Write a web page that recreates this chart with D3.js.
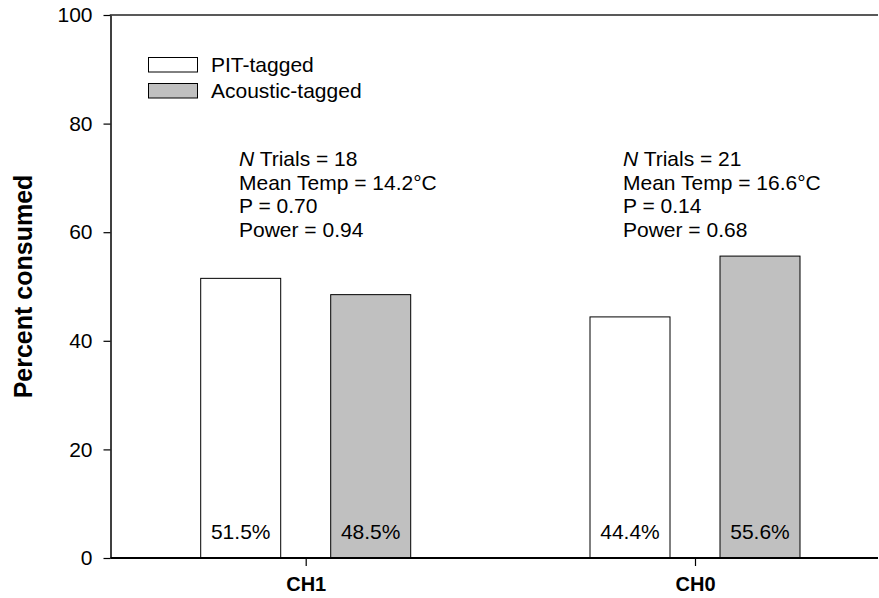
<!DOCTYPE html>
<html>
<head>
<meta charset="utf-8">
<script src="https://cdn.jsdelivr.net/npm/d3@7"></script>
<style>
  html, body { margin: 0; padding: 0; background: #fff; }
  svg { display: block; font-family: Arial, "Liberation Sans", sans-serif; }
</style>
</head>
<body>
<svg id="chart" width="879" height="598"></svg>
<script>
// Predation trials: share of each tag type consumed per channel
const categories = ["CH1", "CH0"];
const seriesNames = ["PIT-tagged", "Acoustic-tagged"];
const pitValues = [51.5, 44.4];
const acousticValues = [48.5, 55.6];
const yTicks = [0, 20, 40, 60, 80, 100];
const trialsN = ["18", "21"];
const meanTemps = ["14.2°C", "16.6°C"];
const pValues = ["0.70", "0.14"];
const powerValues = ["0.94", "0.68"];

const svg = d3.select("#chart");
const plotLeft = 110.5, plotRight = 878, plotTop = 15, plotBottom = 558;
const fills = ["#ffffff", "#c0c0c0"];

const y = d3.scaleLinear().domain([0, 100]).range([plotBottom, plotTop]);
const x = d3.scalePoint().domain(categories).range([305.7, 695]);
const xSub = d3.scaleBand().domain(seriesNames).range([-105, 105])
  .paddingInner(50 / 130).paddingOuter(0);

const rows = categories.map((c, i) => ({
  cat: c,
  vals: [pitValues[i], acousticValues[i]]
}));

// Bars
const groups = svg.append("g").selectAll("g")
  .data(rows).join("g")
  .attr("transform", d => `translate(${x(d.cat)},0)`);

groups.selectAll("rect")
  .data(d => d.vals.map((v, j) => ({ v, s: seriesNames[j], j })))
  .join("rect")
  .attr("x", d => xSub(d.s))
  .attr("width", xSub.bandwidth())
  .attr("y", d => y(d.v))
  .attr("height", d => y(0) - y(d.v))
  .attr("fill", d => fills[d.j])
  .attr("stroke", "#000")
  .attr("stroke-width", 1);

// Percent labels at the foot of each bar
groups.selectAll("text.pct")
  .data(d => d.vals.map((v, j) => ({ v, s: seriesNames[j] })))
  .join("text")
  .attr("class", "pct")
  .attr("x", d => xSub(d.s) + xSub.bandwidth() / 2)
  .attr("y", 539)
  .attr("text-anchor", "middle")
  .attr("font-size", 21)
  .attr("fill", "#000")
  .text(d => d.v.toFixed(1) + "%");

// Y axis
const yAxis = svg.append("g")
  .attr("transform", `translate(${plotLeft},0)`)
  .call(d3.axisLeft(y).tickValues(yTicks).tickSize(7).tickSizeOuter(0).tickPadding(11));
yAxis.select(".domain").attr("stroke", "#000").attr("stroke-width", 1.5);
yAxis.selectAll(".tick line").attr("stroke", "#000").attr("stroke-width", 1.2);
yAxis.selectAll(".tick text").attr("font-size", 21).attr("fill", "#000")
  .attr("font-family", "Arial, 'Liberation Sans', sans-serif");

// X axis
const xAxis = svg.append("g")
  .attr("transform", `translate(0,${plotBottom})`)
  .call(d3.axisBottom(x).tickSize(8).tickSizeOuter(0).tickPadding(11));
xAxis.select(".domain").remove();
xAxis.selectAll(".tick line").attr("stroke", "#000").attr("stroke-width", 1.2);
xAxis.selectAll(".tick text").attr("font-size", 20).attr("font-weight", "bold")
  .attr("fill", "#000").attr("font-family", "Arial, 'Liberation Sans', sans-serif");

// Frame lines along top and bottom
svg.append("line").attr("x1", plotLeft).attr("x2", plotRight).attr("y1", plotBottom).attr("y2", plotBottom)
  .attr("stroke", "#000").attr("stroke-width", 2);
svg.append("line").attr("x1", plotLeft - 0.75).attr("x2", plotRight).attr("y1", plotTop).attr("y2", plotTop)
  .attr("stroke", "#222").attr("stroke-width", 1.5);

// Y axis title
svg.append("text")
  .attr("transform", `translate(32,${(plotTop + plotBottom) / 2}) rotate(-90)`)
  .attr("text-anchor", "middle")
  .attr("font-size", 25)
  .attr("font-weight", "bold")
  .attr("fill", "#000")
  .text("Percent consumed");

// Legend
const legend = svg.append("g");
seriesNames.forEach((name, i) => {
  const by = 57.5 + i * 26;
  legend.append("rect")
    .attr("x", 148.5).attr("y", by)
    .attr("width", 49).attr("height", 14.5)
    .attr("fill", fills[i]).attr("stroke", "#000").attr("stroke-width", 1);
  legend.append("text")
    .attr("x", 211).attr("y", by + 14.5)
    .attr("font-size", 21).attr("fill", "#000")
    .text(name);
});

// Trial statistics beside each channel
const noteX = [239, 623];
categories.forEach((c, i) => {
  const g = svg.append("g").attr("font-size", 21).attr("fill", "#000");
  const t0 = g.append("text").attr("x", noteX[i]).attr("y", 166);
  t0.append("tspan").attr("font-style", "italic").text("N");
  t0.append("tspan").text(" Trials = " + trialsN[i]);
  g.append("text").attr("x", noteX[i]).attr("y", 189.5).text("Mean Temp = " + meanTemps[i]);
  g.append("text").attr("x", noteX[i]).attr("y", 213).text("P = " + pValues[i]);
  g.append("text").attr("x", noteX[i]).attr("y", 236.5).text("Power = " + powerValues[i]);
});
</script>
</body>
</html>
